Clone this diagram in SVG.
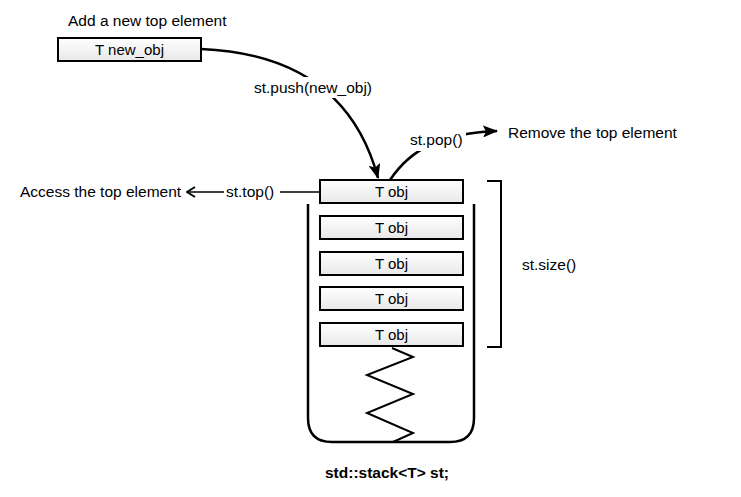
<svg xmlns="http://www.w3.org/2000/svg" width="741" height="497" viewBox="0 0 741 497">
<defs>
<linearGradient id="g" x1="0" y1="0" x2="0" y2="1">
<stop offset="0" stop-color="#ffffff"/>
<stop offset="1" stop-color="#e8e8e8"/>
</linearGradient>
<marker id="solid" viewBox="0 0 15 12" refX="14" refY="6" markerWidth="15" markerHeight="12" markerUnits="userSpaceOnUse" orient="auto">
<path d="M0,0 L15,6 L0,12 L3,6 Z" fill="#000"/>
</marker>
<marker id="open" viewBox="0 0 10 12" refX="9" refY="6" markerWidth="10" markerHeight="12" markerUnits="userSpaceOnUse" orient="auto">
<path d="M1,1 L9,6 L1,11" fill="none" stroke="#000" stroke-width="1.8"/>
</marker>
</defs>
<style>
text{font-family:"Liberation Sans",Arial,sans-serif;font-size:15.5px;fill:#000}
.box{fill:url(#g);stroke:#000;stroke-width:2}
.bt{font-size:15px;text-anchor:middle}
.c{fill:none;stroke:#000;stroke-width:2.5}
.bg{fill:#fff}
</style>
<g id="container">
<path class="c" d="M308,204 V418 Q308,442 332,442 H450 Q474,442 474,418 V204"/>
<polyline fill="none" stroke="#000" stroke-width="2" points="392,348 413,357 367,375 413,394 367,413 413,433 393,442"/>
</g>
<g id="size-bracket">
<path fill="none" stroke="#000" stroke-width="2" d="M487,181 H501 V347 H487"/>
<text x="522" y="270">st.size()</text>
</g>
<g id="connectors">
<path class="c" d="M201,49 Q345,55 378,178" marker-end="url(#solid)"/>
<rect class="bg" x="250" y="77" width="126" height="21"/>
<text x="313" y="93" text-anchor="middle">st.push(new_obj)</text>
<path class="c" d="M390,180 C410,150 440,133 497,131" marker-end="url(#solid)"/>
<rect class="bg" x="407" y="130" width="59" height="21"/>
<text x="410" y="145">st.pop()</text>
<line x1="320" y1="192" x2="280" y2="192" stroke="#000" stroke-width="1.6"/>
<line x1="224" y1="192" x2="187" y2="192" stroke="#000" stroke-width="1.6" marker-end="url(#open)"/>
<text x="226" y="197">st.top()</text>
</g>
<g id="new_obj">
<rect class="box" x="58" y="38" width="143" height="23"/>
<text class="bt" x="129.5" y="55">T new_obj</text>
</g>
<text x="68" y="26">Add a new top element</text>
<text x="508" y="138">Remove the top element</text>
<text x="20" y="197">Access the top element</text>
<g id="obj1"><rect class="box" x="320" y="180" width="143" height="23"/><text class="bt" x="391.5" y="197">T obj</text></g>
<g id="obj2"><rect class="box" x="320" y="216" width="143" height="23"/><text class="bt" x="391.5" y="233">T obj</text></g>
<g id="obj3"><rect class="box" x="320" y="252" width="143" height="23"/><text class="bt" x="391.5" y="269">T obj</text></g>
<g id="obj4"><rect class="box" x="320" y="287" width="143" height="23"/><text class="bt" x="391.5" y="304">T obj</text></g>
<g id="obj5"><rect class="box" x="320" y="323" width="143" height="23"/><text class="bt" x="391.5" y="340">T obj</text></g>
<text x="387" y="478" text-anchor="middle" font-weight="bold" font-size="16.5">std::stack&lt;T&gt; st;</text>
</svg>
